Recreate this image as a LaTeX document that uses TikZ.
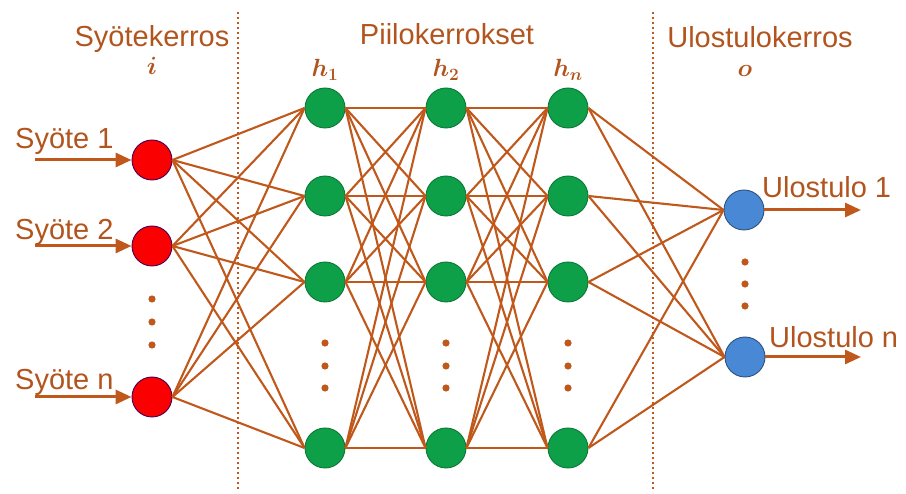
\documentclass[tikz,border=0pt]{standalone}
\usepackage{amsmath, amssymb}
\usepackage{fontspec}
\setmainfont{Liberation Sans}
\usepackage{tikz}
\usetikzlibrary{positioning, arrows.meta}
\usepackage{xcolor}

\definecolor{edgebrown}{RGB}{192,88,28}
\definecolor{textbrown}{RGB}{178,84,30}
\definecolor{inred}{RGB}{250,0,0}
\definecolor{hidgreen}{RGB}{14,160,72}
\definecolor{outblue}{RGB}{72,136,212}

\tikzset{
    neuron/.style={circle, minimum size=40pt, inner sep=0pt, line width=0.9pt},
    inneuron/.style={neuron, fill=inred, draw=red!45!blue!60!black},
    hidneuron/.style={neuron, fill=hidgreen, draw=hidgreen!75!black},
    outneuron/.style={neuron, fill=outblue, draw=outblue!60!black},
    synapse/.style={draw=edgebrown, line width=2.1pt},
    flow/.style={draw=edgebrown, line width=3pt, -{Triangle[length=16pt,width=14pt]}},
    divider/.style={draw=edgebrown, line width=2.6pt, dash pattern=on 2.4pt off 2.6pt},
    txt/.style={text=textbrown, inner sep=0pt, font=\fontsize{29}{34}\selectfont},
    sym/.style={text=textbrown, inner sep=0pt, anchor=base, font=\fontsize{25}{28}\selectfont\boldmath}
}

\begin{document}
\begin{tikzpicture}[x=1pt, y=-1pt]
    \useasboundingbox (0,0) rectangle (906,494);

    % Dotted separators between the layers
    \coordinate (s1top) at (238,12);
    \coordinate (s1bot) at (238,490);
    \coordinate (s2top) at (653,12);
    \coordinate (s2bot) at (653,490);
    \draw[divider] (s1top) -- (s1bot);
    \draw[divider] (s2top) -- (s2bot);

    % Layer titles
    \node[txt, anchor=base] (tin) at (152,47) {Syötekerros};
    \node[sym] (tinsym) at (152,75) {$i$};
    \node[txt, anchor=base] (thid) at (447,45) {Piilokerrokset};
    \node[txt, anchor=base] (tout) at (760,48) {Ulostulokerros};
    \node[sym] (toutsym) at (745,77) {$o$};

    % Input neurons
    \foreach \r/\y in {1/160, 2/246, 3/397} {
        \node[inneuron] (i\r) at (152,\y) {};
    }

    % Hidden neurons
    \foreach \l/\x/\s in {1/325/1, 2/446/2, 3/568/n} {
        \node[sym] (hl\l) at (\x,77) {$h_{\s}$};
        \foreach \r/\y in {1/108, 2/196, 3/282, 4/448} {
            \node[hidneuron] (h\l-\r) at (\x,\y) {};
        }
    }

    % Output neurons
    \node[outneuron] (o1) at (744,210) {};
    \node[outneuron] (o2) at (745,357) {};

    % Vertical ellipses
    \foreach \y in {299, 322, 345} {
        \fill[edgebrown] (152,\y) circle (3.6pt);
    }
    \foreach \x in {325, 446, 568} {
        \foreach \y in {343, 366, 388} {
            \fill[edgebrown] (\x,\y) circle (3.6pt);
        }
    }
    \foreach \y in {262, 284, 306} {
        \fill[edgebrown] (745,\y) circle (3.6pt);
    }

    % Connections input -> h1
    \foreach \a in {1,2,3} {
        \foreach \b in {1,2,3,4} {
            \draw[synapse] (i\a.east) -- (h1-\b.west);
        }
    }

    % Connections between hidden layers
    \foreach \l/\m in {1/2, 2/3} {
        \foreach \a in {1,2,3,4} {
            \foreach \b in {1,2,3,4} {
                \draw[synapse] (h\l-\a.east) -- (h\m-\b.west);
            }
        }
    }

    % Connections hn -> output
    \foreach \a in {1,2,3,4} {
        \foreach \b in {1,2} {
            \draw[synapse] (h3-\a.east) -- (o\b.west);
        }
    }

    % Input arrows and labels
    \foreach \r/\y in {1/160, 2/246, 3/397} {
        \coordinate (src\r) at (35,\y);
        \draw[flow] (src\r) -- (i\r.west);
    }
    \node[txt, anchor=base west] (l1) at (15,149) {Syöte 1};
    \node[txt, anchor=base west] (l2) at (15,240) {Syöte 2};
    \node[txt, anchor=base west] (l3) at (15,390) {Syöte n};

    % Output arrows and labels
    \coordinate (dst1) at (861,210);
    \coordinate (dst2) at (861,357);
    \draw[flow] (o1.east) -- (dst1);
    \draw[flow] (o2.east) -- (dst2);
    \node[txt, anchor=base west] (r1) at (762,198) {Ulostulo 1};
    \node[txt, anchor=base west] (r2) at (769,348) {Ulostulo n};
\end{tikzpicture}
\end{document}
